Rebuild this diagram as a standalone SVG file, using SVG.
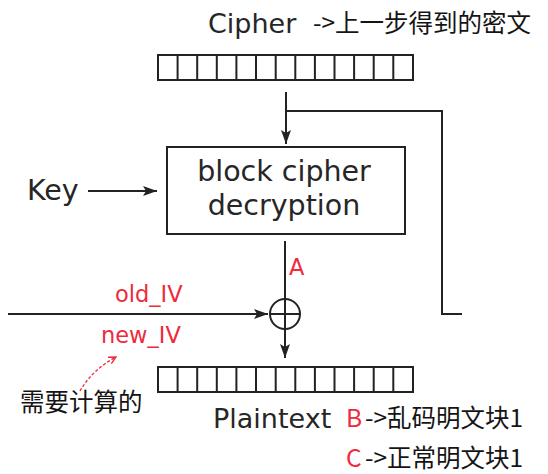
<svg xmlns="http://www.w3.org/2000/svg" width="548" height="474" viewBox="0 0 548 474">
  <style>
    .ln { stroke: #222; stroke-width: 2; fill: none; }
    .cell { stroke: #222; stroke-width: 2; fill: #fff; }
    .en { font-family: "DejaVu Sans", sans-serif; font-size: 27px; fill: #262626; }
    .box { font-family: "DejaVu Sans", sans-serif; font-size: 28.5px; fill: #262626; }
    .red { font-family: "DejaVu Sans", sans-serif; font-size: 22.5px; fill: #ee2a3c; }
    .cn { font-family: "Noto Sans CJK SC", sans-serif; font-size: 24.5px; fill: #141414; }
    .cnred { font-family: "Noto Sans CJK SC", sans-serif; font-size: 24.5px; fill: #ee2a3c; }
  </style>
  <defs>
    <marker id="arr" viewBox="0 0 14 10" refX="14" refY="5" markerWidth="14" markerHeight="10" markerUnits="userSpaceOnUse" orient="auto">
      <path d="M0,0 L14,5 L0,10 L3,5 Z" fill="#222"/>
    </marker>
    <marker id="arrRed" viewBox="0 0 10 10" refX="9" refY="5" markerWidth="9" markerHeight="9" markerUnits="userSpaceOnUse" orient="auto">
      <path d="M1,1 L9,5 L1,9" fill="none" stroke="#ee2a3c" stroke-width="1.5"/>
    </marker>
    <g id="block13">
      <rect class="cell" x="0" y="0" width="255" height="25"/>
      <path class="ln" d="M19.6,0 V25 M39.2,0 V25 M58.8,0 V25 M78.4,0 V25 M98,0 V25 M117.7,0 V25 M137.3,0 V25 M156.9,0 V25 M176.5,0 V25 M196.1,0 V25 M215.7,0 V25 M235.3,0 V25"/>
    </g>
  </defs>
  <rect width="548" height="474" fill="#fff"/>

  <g id="cipher">
    <text class="en" x="208" y="33">Cipher</text>
    <text class="cn" x="313" y="32">-&gt;上一步得到的密文</text>
    <use href="#block13" x="158" y="55"/>
  </g>

  <g id="decrypt">
    <rect class="ln" x="167" y="147" width="238" height="87"/>
    <text class="box" x="284" y="181" text-anchor="middle">block cipher</text>
    <text class="box" x="284" y="215" text-anchor="middle">decryption</text>
  </g>

  <g id="key">
    <text class="box" x="27" y="200">Key</text>
  </g>

  <g id="xor">
    <circle class="ln" cx="285" cy="314" r="15"/>
    <path class="ln" d="M270,314 H300"/>
  </g>

  <g id="iv-labels">
    <text class="red" x="115" y="302">old_IV</text>
    <text class="red" x="101" y="343">new_IV</text>
    <text class="red" x="289" y="275">A</text>
    <text class="cn" x="20" y="411">需要计算的</text>
  </g>

  <g id="plaintext">
    <use href="#block13" x="158" y="367"/>
    <text class="en" x="213" y="428">Plaintext</text>
    <text class="cnred" x="346" y="427">B</text>
    <text class="cn" x="365" y="427">-&gt;乱码明文块1</text>
    <text class="cnred" x="346" y="467">C</text>
    <text class="cn" x="365" y="467">-&gt;正常明文块1</text>
  </g>

  <g id="connectors">
    <path class="ln" d="M286,92 V144" marker-end="url(#arr)"/>
    <path class="ln" d="M286,111 H442 V314 H462"/>
    <path class="ln" d="M88,191 H157" marker-end="url(#arr)"/>
    <path class="ln" d="M285,241 V358" marker-end="url(#arr)"/>
    <path class="ln" d="M8,314 H268" marker-end="url(#arr)"/>
    <path d="M80,391 Q92,370 116,357" fill="none" stroke="#ee2a3c" stroke-width="1.3" stroke-dasharray="3,2" marker-end="url(#arrRed)"/>
  </g>
</svg>
